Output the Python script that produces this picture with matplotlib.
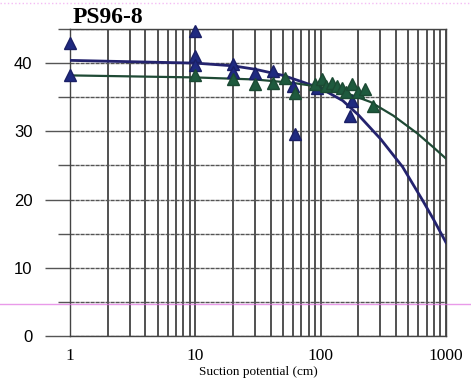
import matplotlib.pyplot as plt
from matplotlib.lines import Line2D
from matplotlib.ticker import FixedLocator, NullFormatter

# fitted retention curves
blue_curve_x = [1, 10, 20, 30, 50, 70, 100, 150, 200, 300, 450, 650, 800, 1000]
blue_curve_y = [40.4, 40.0, 39.6, 39.1, 38.2, 37.3, 36.3, 34.5, 32.4, 28.9, 24.8, 19.9, 17.0, 13.7]
green_curve_x = [1, 10, 30, 60, 100, 150, 250, 380, 590, 800, 1000]
green_curve_y = [38.2, 37.9, 37.6, 37.1, 36.5, 35.8, 34.3, 32.3, 29.7, 27.6, 26.0]

# measured points
blue_x = [1, 1, 10, 10, 10, 20, 20, 30, 42, 60, 62, 94, 170, 178]
blue_y = [43.0, 38.3, 44.7, 41.0, 39.7, 39.9, 38.7, 38.5, 38.9, 36.6, 29.6, 36.4, 32.3, 34.5]
green_x = [10, 20, 30, 42, 52, 62, 90, 103, 110, 123, 135, 148, 160, 178, 200, 225, 263]
green_y = [38.2, 37.6, 37.0, 37.1, 37.8, 35.6, 37.0, 37.7, 36.6, 37.1, 36.6, 36.3, 35.8, 36.9, 35.7, 36.2, 33.7]

xmajor = [1, 10, 100, 1000]
xminor = [m * d for d in (1, 10, 100) for m in range(2, 10)]
ymajor = [0, 10, 20, 30, 40]
yminor = [5, 15, 25, 35, 45]

W, H = 471, 378
fig = plt.figure(figsize=(W / 100, H / 100), dpi=100)
ax = fig.add_axes([70 / W, 1 - 336 / H, (446 - 70) / W, (336 - 29) / H])
ax.set_xscale('log')
ax.set_xlim(1, 1000)
ax.set_ylim(0, 45)

ax.xaxis.set_major_locator(FixedLocator(xmajor))
ax.xaxis.set_minor_locator(FixedLocator(xminor))
ax.xaxis.set_minor_formatter(NullFormatter())
ax.set_xticklabels(['1', '10', '100', '1000'], fontfamily='Liberation Serif', fontsize=12.5)
ax.yaxis.set_major_locator(FixedLocator(ymajor))
ax.yaxis.set_minor_locator(FixedLocator(yminor))
ax.set_yticklabels([str(v) for v in ymajor], fontfamily='Liberation Sans', fontsize=12)

ax.tick_params(axis='x', which='both', length=0, pad=9)
ax.tick_params(axis='y', which='major', length=18, width=1, color='#555555', pad=9)
ax.tick_params(axis='y', which='minor', length=9, width=1, color='#555555')

ax.grid(True, axis='x', which='both', color='#222222', lw=1.1)
ax.grid(True, axis='y', which='both', color='#555555', lw=1.0, ls=(0, (3, 0.6)))
for s in ax.spines.values():
    s.set_color('#444444')
    s.set_linewidth(1.0)

ax.plot(blue_curve_x, blue_curve_y, color='#24236e', lw=2, zorder=3)
ax.plot(green_curve_x, green_curve_y, color='#1f4a35', lw=1.6, zorder=3)
ax.plot(blue_x, blue_y, ls='none', marker='^', ms=8, color='#1f2a80',
        markeredgecolor='#1a1f66', zorder=4, clip_on=False)
ax.plot(green_x, green_y, ls='none', marker='^', ms=8, color='#1e5a3e',
        markeredgecolor='#1b4a33', zorder=5, clip_on=False)

fig.text(73 / W, 1 - 23 / H, 'PS96-8', fontfamily='Liberation Serif',
         fontweight='bold', fontsize=17, va='baseline', ha='left')
fig.text(258 / W, 1 - 375 / H, 'Suction potential (cm)', fontfamily='Liberation Serif',
         fontsize=9.5, va='baseline', ha='center')

# scanner artefact lines
fig.add_artist(Line2D([0, 1], [1 - 304 / H, 1 - 304 / H], color='#e070e0', lw=1, alpha=0.7))
fig.add_artist(Line2D([0, 1], [1 - 3 / H, 1 - 3 / H], color='#f0a0f0', lw=1, ls=':', alpha=0.7))

fig.savefig('out.png', dpi=100)
